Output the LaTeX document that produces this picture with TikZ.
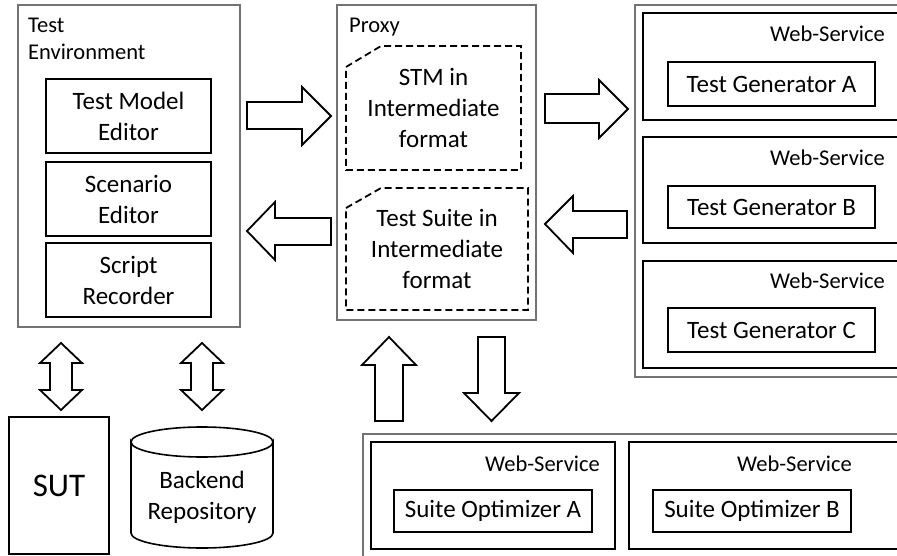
\documentclass[tikz,border=0pt]{standalone}
\usepackage{fontspec}
\setmainfont{Carlito}
\tikzset{
  outerbox/.style={draw=black!55, line width=1.2pt},
  innerbox/.style={draw=black, line width=1.8pt, align=center, inner sep=0pt,
    font=\fontsize{25}{31}\selectfont},
  lbl/.style={inner sep=0pt, font=\fontsize{22.5}{27.5}\selectfont},
  main/.style={inner sep=0pt, align=center, font=\fontsize{25}{31}\selectfont},
  blockarrow/.style={draw=black, line width=1.8pt, line join=miter},
  docshape/.style={draw=black, line width=1.8pt, dash pattern=on 7pt off 4pt},
}
\begin{document}
\begin{tikzpicture}[x=1pt,y=-1pt]
\useasboundingbox (0,0) rectangle (897,556);
\clip (0,0) rectangle (897,556);

% Test environment
\node[outerbox, minimum width=222pt, minimum height=322pt] (te) at (129,166) {};
\node[lbl, anchor=base west] (tet) at (28,33) {Test};
\node[lbl, anchor=base west] (tee) at (28,60) {Environment};
\node[innerbox, minimum width=165pt, minimum height=74pt] (tme) at (128.5,116) {Test Model\\Editor};
\node[innerbox, minimum width=165pt, minimum height=74pt] (sce) at (128.5,199) {Scenario\\Editor};
\node[innerbox, minimum width=165pt, minimum height=74pt] (scr) at (128.5,280) {Script\\Recorder};

% Proxy
\node[outerbox, minimum width=199pt, minimum height=315pt] (proxy) at (436.5,162.5) {};
\node[lbl, anchor=base west] (proxyt) at (349,33) {Proxy};
\draw[docshape] (346,67) -- (381,46) -- (521,46) -- (521,170) -- (346,170) -- cycle;
\node[main] (stm) at (433.5,108) {STM in\\Intermediate\\format};
\draw[docshape] (346,208) -- (381,188) -- (528,188) -- (528,310) -- (346,310) -- cycle;
\node[main] (ts) at (437,249) {Test Suite in\\Intermediate\\format};

% Web services group (test generators)
\draw[outerbox] (940,5) -- (635,5) -- (635,377) -- (940,377);
\draw[innerbox] (940,13) -- (643,13) -- (643,120) -- (940,120);
\draw[innerbox] (940,137) -- (643,137) -- (643,243) -- (940,243);
\draw[innerbox] (940,261) -- (643,261) -- (643,368) -- (940,368);
\node[lbl, anchor=east] (wsa) at (885,34) {Web-Service};
\node[lbl, anchor=east] (wsb) at (885,158) {Web-Service};
\node[lbl, anchor=east] (wsc) at (885,281) {Web-Service};
\node[innerbox, minimum width=207pt, minimum height=44pt] (tga) at (771.5,84) {Test Generator A};
\node[innerbox, minimum width=207pt, minimum height=42pt] (tgb) at (771.5,207) {Test Generator B};
\node[innerbox, minimum width=207pt, minimum height=44pt] (tgc) at (771.5,330) {Test Generator C};

% Bottom group (suite optimizers)
\draw[outerbox] (940,434) -- (363,434) -- (363,580);
\node[innerbox, minimum width=244pt, minimum height=107pt] (wso1) at (493,495.5) {};
\draw[innerbox] (940,442) -- (629,442) -- (629,549) -- (940,549);
\node[lbl, anchor=east] (wsd) at (600,464) {Web-Service};
\node[lbl, anchor=east] (wse) at (852,464) {Web-Service};
\node[innerbox, minimum width=198pt, minimum height=42pt] (soa) at (493,511) {Suite Optimizer A};
\node[innerbox, minimum width=198pt, minimum height=42pt] (sob) at (752,511) {Suite Optimizer B};

% SUT and repository
\node[draw=black, line width=1.6pt, minimum width=100pt, minimum height=137pt,
  font=\fontsize{33}{40}\selectfont] (sut) at (59,485.5) {SUT};
\draw[black, line width=1.6pt] (131,442) -- (131,533) arc[start angle=180, end angle=0, x radius=71, y radius=15]
  -- (273,442) arc[start angle=0, end angle=180, x radius=71, y radius=15] -- cycle;
\draw[black, line width=1.6pt] (131,442) arc[start angle=180, end angle=360, x radius=71, y radius=15];
\node[main] (repo) at (202,497) {Backend\\Repository};

% Block arrows
\draw[blockarrow] (247,102) -- (302,102) -- (302,87) -- (331,116) -- (302,145) -- (302,129) -- (247,129) -- cycle;
\draw[blockarrow] (331,218) -- (275,218) -- (275,202) -- (247,231) -- (275,260) -- (275,245) -- (331,245) -- cycle;
\draw[blockarrow] (545,94) -- (599,94) -- (599,80) -- (628,109) -- (599,138) -- (599,123) -- (545,123) -- cycle;
\draw[blockarrow] (627,211) -- (573,211) -- (573,196) -- (545,224) -- (573,253) -- (573,238) -- (627,238) -- cycle;
\draw[blockarrow] (375,421) -- (375,365) -- (362,365) -- (389,337) -- (416,365) -- (403,365) -- (403,421) -- cycle;
\draw[blockarrow] (478,337) -- (505,337) -- (505,393) -- (519,393) -- (491.5,421) -- (464,393) -- (478,393) -- cycle;
\draw[blockarrow] (50,363) -- (40,363) -- (61,343) -- (82,363) -- (72,363) -- (72,390) -- (82,390) -- (61,410) -- (40,390) -- (50,390) -- cycle;
\draw[blockarrow] (191,363) -- (181,363) -- (202,343) -- (223,363) -- (213,363) -- (213,390) -- (223,390) -- (202,410) -- (181,390) -- (191,390) -- cycle;
\end{tikzpicture}
\end{document}
